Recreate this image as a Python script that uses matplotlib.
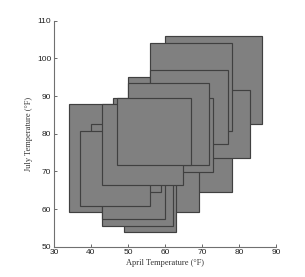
import matplotlib
matplotlib.use("Agg")
import matplotlib.pyplot as plt
from matplotlib.patches import Rectangle

# rectangles: (x_left, x_right, y_bottom, y_top) in draw order
x_left  = [60.0, 56.0, 61.0, 50.0, 56.0, 56.0, 34.0, 49.0, 42.9, 42.9, 46.0, 50.0, 40.0, 37.0, 42.9, 47.0]
x_right = [86.1, 78.2, 83.1, 70.0, 78.2, 77.1, 69.1, 63.1, 62.1, 60.1, 73.1, 72.0, 59.0, 56.0, 64.9, 67.0]
y_bot   = [82.5, 64.4, 73.5, 75.0, 80.7, 77.3, 59.1, 53.8, 55.6, 57.3, 69.9, 71.7, 64.4, 60.9, 66.4, 71.7]
y_top   = [105.9, 86.0, 91.5, 95.1, 104.1, 96.8, 87.9, 76.0, 78.0, 80.0, 89.6, 93.4, 82.5, 80.7, 87.9, 89.6]

x_ticks = [30, 40, 50, 60, 70, 80, 90]
y_ticks = [50, 60, 70, 80, 90, 100, 110]

fig = plt.figure(figsize=(3.05, 2.77), dpi=100)
ax = fig.add_axes([54/305, 1-246.67/277, 222/305, 226/277])
for x0, x1, y0, y1 in zip(x_left, x_right, y_bot, y_top):
    ax.add_patch(Rectangle((x0, y0), x1 - x0, y1 - y0, facecolor='#808080',
                           edgecolor='#404040', linewidth=0.85))
ax.set_xlim(30, 90)
ax.set_ylim(50, 110)
ax.set_xticks(x_ticks)
ax.set_yticks(y_ticks)
for s in ['top', 'right']:
    ax.spines[s].set_visible(False)
for s in ['left', 'bottom']:
    ax.spines[s].set_color('#707070')
    ax.spines[s].set_linewidth(0.8)
ax.tick_params(direction='in', length=2.5, width=0.6, color='#505050',
               labelsize=6, labelcolor='#222222', pad=2)
for lab in ax.get_xticklabels() + ax.get_yticklabels():
    lab.set_family('Liberation Sans')
ax.set_xlabel('April Temperature (°F)', family='Liberation Serif', fontsize=6, color='#333333', labelpad=2)
ax.set_ylabel('July Temperature (°F)', family='Liberation Serif', fontsize=6, color='#333333', labelpad=3)
fig.savefig('out.png', dpi=100)
